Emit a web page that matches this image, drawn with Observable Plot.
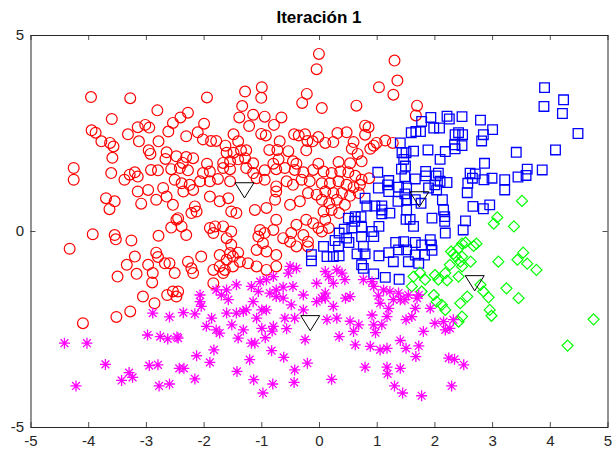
<!DOCTYPE html>
<html>
<head>
<meta charset="utf-8">
<script src="https://cdn.jsdelivr.net/npm/d3@7"></script>
<script src="https://cdn.jsdelivr.net/npm/@observablehq/plot@0.6"></script>
<style>
  html, body { margin: 0; padding: 0; background: #fff; }
  #title { position: relative; width: 614px; height: 22px; font: bold 17px "Liberation Sans", Arial, sans-serif; color: #000; }
  #title span { position: absolute; left: 319px; top: 8px; transform: translateX(-50%); white-space: nowrap; }
</style>
</head>
<body>
<div id="title"><span>Iteración 1</span></div>
<div id="chart"></div>
<script>
const titleText = "Iteración 1";
const xTicks = [-5, -4, -3, -2, -1, 0, 1, 2, 3, 4, 5];
const yTicks = [-5, 0, 5];

// Cluster 1 (red circles)
const cluster1 = [
  [-3.96,3.43],[-3.28,3.40],[-2.81,3.09],[-3.60,2.87],[-3.95,2.58],[-3.88,2.52],[-3.32,2.48],[-3.15,2.66],
  [-3.02,2.72],[-2.95,2.65],[-2.62,2.55],[-2.54,2.77],[-3.78,2.30],[-3.63,2.26],[-3.57,2.17],[-3.13,2.30],
  [-2.79,2.30],[-2.96,2.07],[-2.93,1.98],[-2.65,2.02],[-2.67,1.85],[-3.59,1.88],
  [-0.01,4.53],[-0.05,4.14],[-1.95,3.42],[-1.29,3.57],[-1.00,3.68],[-1.01,3.41],[-0.22,3.51],[-0.30,3.28],
  [-1.34,3.20],[-1.39,2.91],[-1.15,2.98],[-0.95,2.93],[-1.22,2.69],[-0.79,2.72],[-0.66,2.91],[-2.28,3.03],
  [-2.41,2.91],[-2.00,2.75],[-2.11,2.53],[-2.31,2.43],[-2.02,2.35],[-1.88,2.31],[-1.79,2.31],[-1.49,2.48],
  [-1.41,2.30],[-1.01,2.49],[-0.93,2.45],[-0.69,2.30],[-0.44,2.48],[-0.36,2.45],[-0.25,2.48],[-0.21,2.31],
  [-0.12,2.30],[-0.02,2.41],[-0.87,2.08],[-0.73,2.08],[-0.54,2.05],[-0.23,2.07],[-1.63,2.19],[-1.61,2.01],
  [-1.49,2.01],[-1.36,2.07],[-1.27,2.07],[-2.48,1.92],[-2.31,1.90],[-2.19,1.87],[-1.95,1.73],[-1.67,1.75],
  [-1.55,1.79],[-1.41,1.84],[-1.29,1.87],[-1.15,1.74],[-0.80,1.73],[-0.71,1.84],[-0.46,1.79],[-0.40,1.73],
  [-0.02,1.73],[-2.37,1.75],
  [1.30,4.36],[1.35,3.85],[1.03,3.68],[1.28,3.49],[0.64,3.21],[0.04,3.15],[1.69,3.21],[1.67,2.96],
  [0.10,2.26],[0.24,2.28],[0.31,2.51],[0.47,2.53],[0.79,2.70],[0.85,2.66],[0.79,2.47],[0.59,2.28],
  [0.56,2.11],[0.66,1.98],[0.73,1.79],[0.88,2.11],[0.94,2.19],[0.99,2.26],[1.14,2.32],[1.27,2.26],
  [0.33,1.77],[0.53,1.74],
  [-4.26,1.62],[-4.26,1.32],[-3.61,1.49],[-3.38,1.32],[-3.29,1.45],[-3.20,1.51],[-3.15,1.40],[-2.92,1.57],
  [-2.80,1.56],[-2.57,1.59],[-2.51,1.32],[-3.15,1.02],[-2.97,1.06],[-2.83,0.81],[-2.65,0.89],[-2.71,1.11],
  [-2.54,0.68],[-3.09,0.71],[-3.70,0.85],[-3.55,0.77],[-3.64,0.57],[-3.93,-0.07],[-3.55,-0.09],[-3.53,-0.20],
  [-3.26,-0.23],[-2.79,-0.11],[-2.57,0.10],[-2.48,0.30],[-4.33,-0.44],[-3.20,-0.64],[-3.34,-0.85],[-3.17,-1.08],
  [-2.97,-0.85],[-2.83,-0.54],[-2.80,-0.65],[-2.68,-0.81],[-2.60,-0.81],[-2.51,-1.06],[-2.89,-1.06],[-3.50,-1.15],
  [-2.90,-1.30],[-3.06,-1.66],[-2.64,-1.62],[-2.54,-1.53],[-2.48,-1.66],
  [-2.42,1.62],[-2.28,1.56],[-2.02,1.49],[-1.90,1.53],[-1.67,1.62],[-1.55,1.59],[-1.27,1.62],[-1.15,1.49],
  [-0.95,1.56],[-0.75,1.59],[-0.60,1.62],[-0.43,1.57],[-0.28,1.51],[-0.11,1.57],[-2.39,1.23],[-2.25,1.19],
  [-2.07,1.28],[-1.90,1.28],[-1.76,1.34],[-1.55,1.28],[-1.09,1.36],[-0.95,1.32],[-0.75,1.15],[-0.75,1.02],
  [-0.57,1.28],[-0.46,1.19],[-0.31,1.32],[-0.17,1.28],[-2.36,1.02],[-2.19,1.06],[-1.90,0.89],[-1.73,0.77],
  [-1.58,0.85],[-1.53,0.51],[-1.44,0.47],[-1.12,0.55],[-0.92,0.60],[-0.77,0.81],[-0.51,0.68],[-0.34,0.77],
  [-0.20,0.98],[-0.05,0.94],[-2.22,0.47],[-2.13,0.51],[-2.16,0.64],[-2.45,0.34],[-2.39,0.13],[-2.31,-0.09],
  [-1.90,0.09],[-1.81,0.13],[-1.84,-0.04],[-1.67,0.13],[-1.53,0.00],[-1.61,-0.17],[-1.03,0.04],[-0.95,-0.04],
  [-1.06,-0.13],[-0.98,-0.30],[-0.80,0.04],[-0.75,0.30],[-0.63,-0.17],[-0.49,-0.04],[-0.40,0.17],[-0.23,0.30],
  [-0.11,0.21],[-0.02,0.09],[-0.28,-0.09],[-0.20,-0.26],[-0.20,-0.38],[-0.40,-0.38],[-0.51,-0.26],[-0.75,-0.60],
  [-0.92,-0.51],[-1.09,-0.47],[-1.53,-0.34],[-1.73,-0.60],[-1.55,-0.55],[-1.50,-0.64],[-1.41,-0.54],[-1.61,-0.72],
  [-1.38,-0.77],[-1.24,-0.81],[-1.09,-0.89],[-0.92,-0.98],[-0.75,-0.89],[-2.28,-0.77],[-2.19,-1.06],[-2.22,-0.94],
  [-2.05,-0.64],[-1.84,-0.98],[-1.73,-0.89],[-1.64,-0.98],[-1.50,-0.89],[-1.67,-1.06],[-1.84,-1.32],[-2.45,-1.53],
  [0.07,1.53],[0.21,1.49],[0.36,1.53],[0.50,1.51],[0.62,1.42],[0.73,1.32],[0.86,1.36],[0.04,1.23],
  [0.18,1.23],[0.33,1.28],[0.47,1.19],[0.59,1.13],[0.70,1.19],[0.10,1.02],[0.24,0.98],[0.39,0.98],
  [0.53,0.91],[0.68,0.98],[0.04,0.81],[0.17,0.72],[0.30,0.81],[0.44,0.68],[0.07,0.51],[0.21,0.55],
  [0.34,0.47],[0.10,0.30],[0.16,0.09],[0.04,0.00],
  [-4.10,-2.34],[-3.52,-2.18],[-3.28,-2.04],[-2.86,-1.83]
];

// Cluster 2 (blue squares)
const cluster2 = [
  [1.77,2.81],[1.93,2.91],[2.21,2.94],[2.25,2.87],[2.47,2.93],[1.59,2.52],[1.67,2.55],[1.75,2.55],
  [1.98,2.64],[2.08,2.64],[2.35,2.47],[2.41,2.52],[2.48,2.47],[1.40,2.26],[1.63,2.05],[1.88,2.08],
  [2.18,2.04],[2.09,1.84],[2.34,2.21],[2.35,2.11],[2.47,2.19],[1.43,2.01],[1.50,2.01],[1.46,1.84],[1.49,1.67],
  [3.90,3.67],[4.23,3.36],[3.89,3.19],[4.21,3.01],[2.79,2.84],[3.00,2.60],[2.84,2.47],[2.81,2.31],
  [4.48,2.50],[3.41,2.02],[4.09,2.08],[2.86,1.74],
  [2.61,1.49],[2.70,1.47],[2.65,1.36],[2.57,1.23],[2.85,1.32],[2.99,1.36],[3.21,1.32],[3.21,1.06],
  [3.44,1.39],[3.58,1.43],[3.60,1.59],[3.86,1.57],[2.56,0.99],[2.66,0.64],[2.84,0.58],[2.95,0.68],
  [2.53,0.27],[2.49,0.04],
  [1.01,1.51],[1.20,1.30],[1.18,1.19],[1.42,1.59],[1.48,1.40],[1.66,1.34],[1.84,1.53],[1.84,1.42],
  [2.02,1.42],[2.06,1.49],[2.09,1.28],[2.21,1.25],[2.00,1.19],[2.03,1.06],[1.02,1.11],[1.20,1.02],
  [1.37,1.13],[1.51,1.11],[1.89,1.11],[1.48,0.96],[1.51,0.81],[1.66,0.81],[1.36,0.77],[1.76,0.72],
  [2.13,0.81],[0.79,0.85],[0.82,0.65],[1.08,0.65],[1.08,0.55],[1.08,0.45],[1.22,0.47],[0.96,0.65],
  [1.51,0.55],[1.50,0.31],[1.57,0.31],[1.63,0.13],[1.95,0.34],[2.15,0.55],[2.17,0.38],[2.17,0.26],
  [2.18,-0.04],[0.50,0.34],[0.62,0.38],[0.61,0.26],[0.72,0.38],[0.73,0.11],[0.56,0.09],[0.43,0.06],
  [0.34,-0.04],[0.47,-0.17],[0.27,-0.23],[0.07,-0.38],[0.33,-0.38],[0.51,-0.28],[0.73,-0.13],[0.91,0.00],
  [1.03,0.13],[0.94,-0.13],[0.76,-0.38],[0.34,-0.62],[0.13,-0.64],[0.24,-0.64],[0.65,-0.57],[0.79,-0.57],
  [1.03,-0.62],[1.20,-0.54],[1.32,-0.28],[1.37,-0.47],[1.51,-0.47],[1.66,-0.28],[1.77,-0.34],[1.92,-0.21],
  [1.94,-0.34],[1.95,-0.48],[1.82,-0.60],[1.66,-0.60],[1.72,-0.81],[1.54,-0.77],[1.28,-0.77],[0.73,-0.85],
  [0.76,-0.94],[0.94,-1.08],[1.14,-1.17],[1.38,-1.22],[1.46,-0.26],
  [-0.14,-0.59],[-0.14,-0.75]
];

// Cluster 3 (green diamonds)
const cluster3 = [
  [3.51,0.78],[3.08,0.36],[3.02,0.20],[3.37,0.13],[2.53,-0.28],[2.67,-0.37],[2.72,-0.31],[2.47,-0.64],
  [2.62,-0.77],[3.10,-0.77],[3.53,-0.54],[3.43,-0.72],[3.60,-0.82],[3.76,-0.98],[3.24,-1.45],[2.79,-1.36],
  [2.84,-1.53],[2.56,-1.66],[2.93,-1.68],[3.45,-1.70],
  [2.28,-0.51],[2.32,-0.57],[2.36,-0.64],[2.41,-0.43],[2.47,-0.31],[2.26,-0.85],[2.44,-0.77],[2.47,-0.89],
  [2.18,-1.06],[2.21,-1.25],[1.74,-1.05],[1.63,-1.15],[1.83,-1.23],[2.00,-1.11],[2.06,-1.23],[1.60,-1.40],
  [1.77,-1.53],[1.98,-1.62],[2.41,-1.15],
  [2.03,-1.79],[2.12,-1.87],[2.18,-2.00],[2.44,-1.83],[2.47,-2.17],[2.41,-2.30],
  [4.30,-2.91],[4.75,-2.24],[2.95,-2.00],[2.98,-2.15]
];

// Cluster 4 (magenta asterisks)
const cluster4 = [
  [-0.51,-0.89],[-0.40,-0.94],[-0.54,-1.06],[-0.80,-1.15],[-0.92,-1.23],[-1.03,-1.28],[-1.18,-1.40],[-1.06,-1.53],
  [-0.86,-1.57],[-0.75,-1.49],[-0.63,-1.42],[-0.46,-1.40],[-0.28,-1.62],[-0.05,-1.32],[-1.44,-1.36],[-1.61,-1.49],
  [-1.79,-1.49],[-1.70,-1.62],[-2.07,-1.62],
  [0.10,-1.02],[0.16,-1.15],[0.30,-0.98],[0.39,-1.06],[0.44,-1.23],[0.24,-1.32],[0.10,-1.57],[0.76,-1.23],
  [0.91,-1.28],[0.94,-1.40],[1.11,-1.49],[1.02,-1.64],[1.22,-1.53],[1.37,-1.57],[1.54,-1.62],[1.72,-1.62],
  [0.53,-1.66],[0.04,-1.70],
  [-4.42,-2.85],[-4.03,-2.85],[-4.22,-3.94],[-3.71,-3.39],[-3.30,-3.60],[-3.43,-3.80],[-3.24,-3.72],[-2.89,-2.08],
  [-2.60,-2.18],[-2.98,-2.64],[-2.76,-2.68],[-2.63,-2.74],[-2.47,-2.69],[-2.95,-3.42],[-2.80,-3.40],[-2.78,-3.94],
  [-2.60,-3.89],[-2.43,-3.49],
  [-2.36,-2.07],[-2.16,-2.10],[-2.07,-1.79],[-2.05,-1.91],[-1.87,-2.21],[-1.96,-2.42],[-1.79,-2.51],[-1.73,-2.59],
  [-1.58,-1.74],[-1.61,-2.08],[-1.52,-2.38],[-1.44,-2.08],[-1.32,-2.04],[-1.27,-2.00],[-1.32,-2.51],[-1.41,-2.72],
  [-1.15,-1.79],[-1.18,-2.85],[-1.12,-2.85],[-1.09,-2.21],[-1.00,-2.00],[-0.92,-2.00],[-1.00,-2.47],[-0.80,-2.42],
  [-0.94,-2.71],[-0.82,-2.54],[-0.75,-1.66],[-0.63,-1.70],[-0.60,-2.21],[-0.57,-2.48],[-0.49,-1.87],[-0.43,-2.21],
  [-0.25,-2.76],[-0.28,-2.00],[-2.45,-2.72],[-2.13,-3.17],[-1.83,-3.02],[-1.90,-3.34],[-2.35,-3.49],[-2.16,-3.76],
  [-1.43,-3.57],[-1.21,-3.27],[-1.14,-3.78],[-0.98,-4.12],[-0.83,-3.04],[-0.81,-3.89],[-0.62,-3.21],[-0.44,-3.85],
  [-0.43,-3.53],[-0.21,-3.36],[-0.05,-1.79],
  [0.10,-1.70],[0.24,-1.91],[0.13,-2.25],[0.30,-2.21],[0.45,-1.70],[0.53,-2.29],[0.68,-2.38],[0.59,-2.55],
  [0.62,-2.89],[0.34,-2.68],[0.91,-2.13],[0.94,-2.38],[1.08,-2.38],[0.97,-2.58],[1.05,-1.83],[1.20,-1.96],
  [1.17,-2.17],[1.28,-1.74],[1.40,-1.74],[1.48,-1.74],[1.69,-1.70],[1.66,-1.96],[1.60,-2.17],[1.50,-2.25],
  [1.92,-1.96],[1.80,-2.55],[2.00,-2.34],[2.15,-2.30],[2.26,-2.47],[2.18,-2.51],[2.32,-2.25],[0.88,-2.93],
  [1.05,-3.02],[1.17,-2.98],[1.40,-2.78],[1.50,-2.98],[1.72,-2.92],[1.67,-3.19],[0.79,-3.46],[1.17,-3.46],
  [1.18,-3.63],[1.40,-3.49],[0.21,-3.77],[1.30,-3.94],[1.44,-4.12],[1.77,-4.19],[2.24,-3.23],[2.34,-3.26],
  [2.50,-3.40],[2.29,-3.94]
];

// Centroids (black triangles)
const centroids = [[-1.30,1.05],[1.73,0.82],[2.69,-1.32],[-0.16,-2.34]];

// custom MATLAB-like marker shapes (size = pi*r^2)
const rad = s => Math.sqrt(s / Math.PI);
const squareSym = {draw(c, s) { const r = rad(s); c.moveTo(-r,-r); c.lineTo(r,-r); c.lineTo(r,r); c.lineTo(-r,r); c.closePath(); }};
const diamondSym = {draw(c, s) { const r = rad(s); c.moveTo(0,-r); c.lineTo(r,0); c.lineTo(0,r); c.lineTo(-r,0); c.closePath(); }};
const asteriskSym = {draw(c, s) { const r = rad(s), d = r * Math.SQRT1_2;
  c.moveTo(-r,0); c.lineTo(r,0); c.moveTo(0,-r); c.lineTo(0,r);
  c.moveTo(-d,-d); c.lineTo(d,d); c.moveTo(-d,d); c.lineTo(d,-d); }};
const triDownSym = {draw(c, s) { const r = rad(s); c.moveTo(-r,-0.8*r); c.lineTo(r,-0.8*r); c.lineTo(0,0.8*r); c.closePath(); }};

const W = 577, H = 392, tk = 5;
const axisColor = "#262626";

const chart = Plot.plot({
  width: 614,
  height: 435,
  marginTop: 13,
  marginBottom: 30,
  marginLeft: 30.5,
  marginRight: 6.5,
  style: {fontFamily: "'Liberation Sans', Arial, sans-serif", fontSize: "15px", color: "#262626", background: "#fff"},
  x: {domain: [-5, 5]},
  y: {domain: [-5, 5]},
  marks: [
    Plot.dot(cluster1, {x: d => d[0], y: d => d[1], r: 5.4, stroke: "#ff0000", fill: "none", strokeWidth: 1.2}),
    Plot.dot(cluster2, {x: d => d[0], y: d => d[1], r: 4.8, symbol: squareSym, stroke: "#0000ff", fill: "none", strokeWidth: 1.3}),
    Plot.dot(cluster3, {x: d => d[0], y: d => d[1], r: 5.5, symbol: diamondSym, stroke: "#00ff00", fill: "none", strokeWidth: 1.2}),
    Plot.dot(cluster4, {x: d => d[0], y: d => d[1], r: 5.5, symbol: asteriskSym, stroke: "#ff00ff", fill: "none", strokeWidth: 1.3}),
    Plot.dot(centroids, {x: d => d[0], y: d => d[1], r: 9.5, symbol: triDownSym, stroke: "#000", fill: "none", strokeWidth: 1}),
    Plot.tickX(xTicks, {x: d => d, insetTop: H - tk, stroke: axisColor, strokeWidth: 0.8}),
    Plot.tickX(xTicks, {x: d => d, insetBottom: H - tk, stroke: axisColor, strokeWidth: 0.8}),
    Plot.tickY(yTicks, {y: d => d, insetRight: W - tk, stroke: axisColor, strokeWidth: 0.8}),
    Plot.tickY(yTicks, {y: d => d, insetLeft: W - tk, stroke: axisColor, strokeWidth: 0.8}),
    Plot.frame({stroke: axisColor, strokeWidth: 1}),
    Plot.axisX({ticks: xTicks, tickSize: 0, tickPadding: 8, tickFormat: d => String(d), label: null, fill: "#262626"}),
    Plot.axisY({ticks: yTicks, tickSize: 0, tickPadding: 7, tickFormat: d => String(d), label: null, fill: "#262626"})
  ]
});
document.getElementById("chart").appendChild(chart);
document.querySelector("#title span").textContent = titleText;
</script>
</body>
</html>
